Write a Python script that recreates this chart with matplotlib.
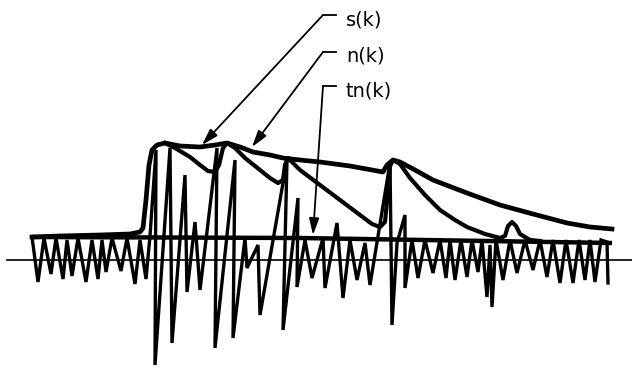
import numpy as np
import matplotlib.pyplot as plt

# muestras k y amplitudes (unidades arbitrarias, 0 = eje)
# senal con signo
k_sig = [32, 38, 44, 51, 56, 63, 67, 72, 78, 86, 92, 98, 102, 106, 112, 121, 127, 135, 140, 146, 150,
         156, 155, 170, 172, 185, 187, 195, 200, 217, 215, 235, 233, 245, 247, 258, 260, 287, 283,
         298, 297, 305, 312, 323, 325, 337, 343, 350, 357, 365, 370, 390, 392, 397, 405, 405,
         412, 418, 425, 433, 440, 446, 450, 455, 461, 467, 472, 478, 482, 487, 490, 492, 496, 503,
         510, 517, 525, 533, 540, 547, 553, 560, 566, 573, 579, 585, 590, 595, 601, 607, 608]
a_sig = [23, -22, 22, -14, 22, -19, 20, -16, 22, -22, 20, -19, 20, -12, 22, -11, 22, -24, 20, -19, 24,
         110, -105, 112, -83, 85, -32, 38, -30, 112, -88, 100, -78, 22, -8, 15, -55, 100, -70,
         62, -27, 20, -18, 22, -28, 37, -38, 20, -20, 17, -25, 97, -65, 17, 45, -28,
         20, -18, 20, -13, 20, -18, 20, -20, 20, -17, 20, -12, 20, -37, 15, -47, 20, -20,
         20, -13, 20, -10, 20, -17, 20, -23, 20, -23, 20, -20, 20, -22, 20, 18, -23]

# envolvente s(k)
k_s = [32, 60, 100, 130, 140, 143, 146, 149, 152, 157, 165, 180, 200, 215, 227, 240, 253, 270, 283,
       300, 320, 350, 383, 387, 393, 400, 415, 433, 467, 500, 533, 567, 590, 612]
a_s = [23, 24, 25, 26, 28, 32, 60, 95, 110, 115, 117, 114, 113, 115, 117, 113, 108, 105, 102,
       100, 98, 94, 88, 95, 100, 98, 90, 80, 67, 55, 46, 37, 33, 31]

# n(k)
k_n = [165, 175, 190, 200, 208, 215, 219, 223, 227, 235, 245, 260, 270, 278, 283, 285, 288, 300,
       320, 340, 360, 372, 380, 385, 388, 390, 393, 400, 410, 425, 440, 455, 467, 485, 500,
       505, 508, 512, 516, 520, 530, 540]
a_n = [117, 112, 103, 95, 89, 88, 95, 112, 117, 112, 102, 90, 82, 77, 80, 95, 102, 90,
       75, 60, 45, 36, 33, 38, 70, 94, 100, 96, 82, 65, 50, 40, 33, 26, 22,
       24, 34, 38, 34, 26, 20, 19]

# umbral tn(k)
k_tn = [32, 300, 612]
a_tn = [23, 22, 17]

# etiquetas: texto, altura de la guia, punta de flecha
labels = ['s(k)', 'n(k)', 'tn(k)']
label_a = [240, 204, 169]
lead_a = [245, 208, 174]
tip_k = [202, 252, 313]
tip_a = [115, 113, 25]

fig = plt.figure(figsize=(6.32, 3.68), dpi=100)
ax = fig.add_axes([0, 0, 1, 1])
ax.set_xlim(0, 632)
ax.set_ylim(-108, 260)
ax.axis('off')

ax.plot([7, 632], [0, 0], 'k-', lw=1.2)
ax.plot(k_tn, a_tn, 'k-', lw=3.2, solid_capstyle='butt')
ax.plot(k_sig, a_sig, 'k-', lw=2.4, solid_joinstyle='miter')
ax.plot(k_s, a_s, 'k-', lw=3.4, solid_joinstyle='round')
ax.plot(k_n, a_n, 'k-', lw=3.0, solid_joinstyle='round')

for lab, ya, yl, tk, ta in zip(labels, label_a, lead_a, tip_k, tip_a):
    ax.text(346, ya, lab, ha='left', va='center', fontsize=14, family='DejaVu Sans')
    ax.plot([323, 336], [yl, yl], 'k-', lw=1.3)
    ax.annotate('', xy=(tk, ta), xytext=(323, yl),
                arrowprops=dict(arrowstyle='-|>,head_length=1.0,head_width=0.3',
                                color='k', lw=1.3, mutation_scale=10,
                                shrinkA=0, shrinkB=0))

plt.savefig('out.png', dpi=100)
